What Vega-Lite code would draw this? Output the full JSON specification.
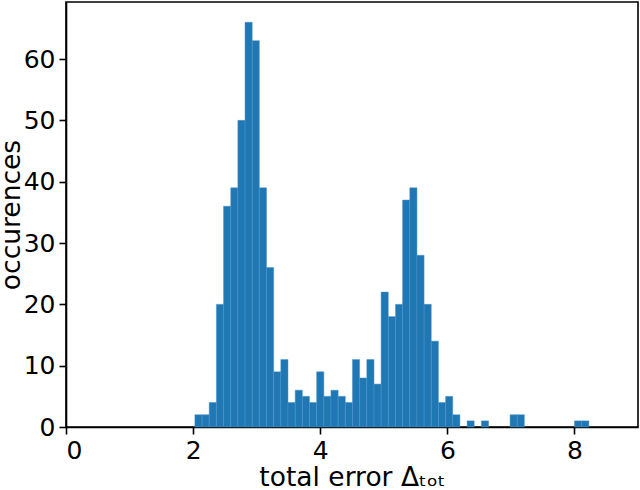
{
  "$schema": "https://vega.github.io/schema/vega-lite/v6.json",
  "width": 572,
  "height": 425,
  "autosize": {"type": "none"},
  "padding": {"left": 66, "top": 2, "right": 2, "bottom": 63},
  "background": "white",
  "config": {
    "view": {"stroke": "black", "strokeWidth": 1.6},
    "axis": {
      "labelFont": "DejaVu Sans",
      "titleFont": "DejaVu Sans",
      "labelFontSize": 25,
      "titleFontSize": 26.5,
      "titleFontWeight": "normal",
      "labelColor": "black",
      "titleColor": "black",
      "tickColor": "black",
      "domainColor": "black",
      "domainWidth": 1.6,
      "tickWidth": 1.6,
      "tickSize": 7,
      "grid": false,
      "labelPadding": 4
    }
  },
  "data": {
    "values": [
      {"x0": 2.028, "x1": 2.141, "count": 2},
      {"x0": 2.141, "x1": 2.253, "count": 2},
      {"x0": 2.253, "x1": 2.366, "count": 4},
      {"x0": 2.366, "x1": 2.479, "count": 20},
      {"x0": 2.479, "x1": 2.592, "count": 36},
      {"x0": 2.592, "x1": 2.704, "count": 39},
      {"x0": 2.704, "x1": 2.817, "count": 50},
      {"x0": 2.817, "x1": 2.930, "count": 66},
      {"x0": 2.930, "x1": 3.042, "count": 63},
      {"x0": 3.042, "x1": 3.155, "count": 39},
      {"x0": 3.155, "x1": 3.268, "count": 26},
      {"x0": 3.268, "x1": 3.380, "count": 9},
      {"x0": 3.380, "x1": 3.493, "count": 11},
      {"x0": 3.493, "x1": 3.606, "count": 4},
      {"x0": 3.606, "x1": 3.719, "count": 6},
      {"x0": 3.719, "x1": 3.831, "count": 5},
      {"x0": 3.831, "x1": 3.944, "count": 4},
      {"x0": 3.944, "x1": 4.057, "count": 9},
      {"x0": 4.057, "x1": 4.169, "count": 5},
      {"x0": 4.169, "x1": 4.282, "count": 6},
      {"x0": 4.282, "x1": 4.395, "count": 5},
      {"x0": 4.395, "x1": 4.507, "count": 4},
      {"x0": 4.507, "x1": 4.620, "count": 11},
      {"x0": 4.620, "x1": 4.733, "count": 8},
      {"x0": 4.733, "x1": 4.846, "count": 11},
      {"x0": 4.846, "x1": 4.958, "count": 7},
      {"x0": 4.958, "x1": 5.071, "count": 22},
      {"x0": 5.071, "x1": 5.184, "count": 18},
      {"x0": 5.184, "x1": 5.296, "count": 20},
      {"x0": 5.296, "x1": 5.409, "count": 37},
      {"x0": 5.409, "x1": 5.522, "count": 39},
      {"x0": 5.522, "x1": 5.634, "count": 28},
      {"x0": 5.634, "x1": 5.747, "count": 20},
      {"x0": 5.747, "x1": 5.860, "count": 14},
      {"x0": 5.860, "x1": 5.973, "count": 4},
      {"x0": 5.973, "x1": 6.085, "count": 5},
      {"x0": 6.085, "x1": 6.198, "count": 2},
      {"x0": 6.311, "x1": 6.423, "count": 1},
      {"x0": 6.536, "x1": 6.649, "count": 1},
      {"x0": 6.987, "x1": 7.100, "count": 2},
      {"x0": 7.100, "x1": 7.212, "count": 2},
      {"x0": 8.001, "x1": 8.114, "count": 1},
      {"x0": 8.114, "x1": 8.227, "count": 1}
    ]
  },
  "mark": {"type": "rect", "color": "#1f77b4", "stroke": "#4f93c6", "strokeWidth": 0.5},
  "encoding": {
    "x": {
      "field": "x0",
      "type": "quantitative",
      "scale": {"domain": [0, 9], "nice": false, "zero": false},
      "axis": {"values": [0, 2, 4, 6, 8], "title": "total error Δₜₒₜ", "titlePadding": 1}
    },
    "x2": {"field": "x1"},
    "y": {
      "field": "count",
      "type": "quantitative",
      "scale": {"domain": [0, 69.3], "nice": false},
      "axis": {"values": [0, 10, 20, 30, 40, 50, 60], "title": "occurences", "titlePadding": -2}
    },
    "y2": {"datum": 0}
  }
}
